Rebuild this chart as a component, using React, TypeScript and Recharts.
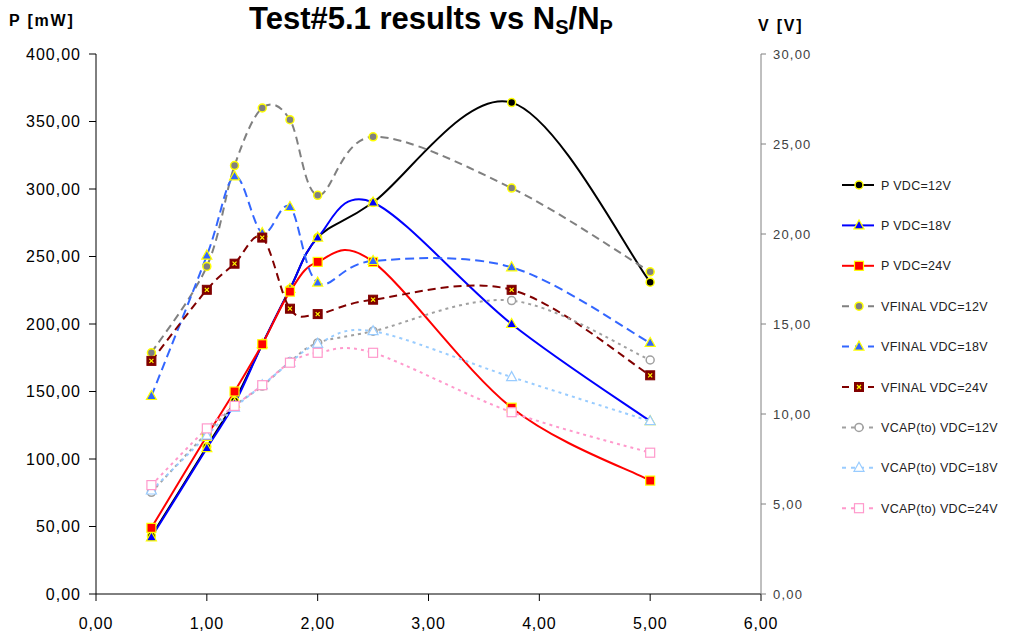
import React from 'react'
import { LineChart, Line, XAxis, YAxis } from 'recharts'

document.body.style.margin = '0'

// N_S / N_P ratio (x)
const nsnp = [0.5, 1, 1.25, 1.5, 1.75, 2, 2.5, 3.75, 5]

// power [mW] — left axis
const pVdc12 = [43, 109, 143, 185, 226, 264, 290, 364, 231]
const pVdc18 = [42, 108, 141, 185, 226, 264, 290, 200, 128]
const pVdc24 = [49, 117, 150, 185, 224, 246, 246, 138, 84]

// voltages [V] — right axis
const vfinal12 = [13.4, 18.2, 23.8, 27.0, 26.35, 22.15, 25.4, 22.55, 17.9]
const vfinal18 = [11.0, 18.8, 23.2, 20.05, 21.5, 17.3, 18.5, 18.15, 13.95]
const vfinal24 = [12.95, 16.9, 18.35, 19.8, 15.85, 15.55, 16.35, 16.9, 12.15]
const vcap12 = [5.65, 8.95, 10.45, 11.55, 12.9, 13.95, 14.6, 16.3, 13.0]
const vcap18 = [5.75, 8.8, 10.35, 11.6, 12.85, 13.9, 14.6, 12.05, 9.6]
const vcap24 = [6.05, 9.2, 10.45, 11.6, 12.85, 13.4, 13.4, 10.1, 7.85]

const xTicks = [0, 1, 2, 3, 4, 5, 6]
const pTicks = [0, 50, 100, 150, 200, 250, 300, 350, 400]
const vTicks = [0, 5, 10, 15, 20, 25, 30]

const data = nsnp.map((x, i) => ({
  x,
  p12: pVdc12[i],
  p18: pVdc18[i],
  p24: pVdc24[i],
  vf12: vfinal12[i],
  vf18: vfinal18[i],
  vf24: vfinal24[i],
  vc12: vcap12[i],
  vc18: vcap18[i],
  vc24: vcap24[i],
}))

const FONT = '"Liberation Sans", Arial, sans-serif'
const fmt = (v: number) => v.toFixed(2).replace('.', ',')

// Excel-like smoothing (Catmull-Rom through every point)
function excelSmooth(context: any) {
  let pts: number[][] = []
  return {
    areaStart() {},
    areaEnd() {},
    lineStart() {
      pts = []
    },
    point(x: number, y: number) {
      pts.push([+x, +y])
    },
    lineEnd() {
      const n = pts.length
      if (!n) return
      context.moveTo(pts[0][0], pts[0][1])
      for (let i = 0; i < n - 1; i++) {
        const p0 = pts[Math.max(0, i - 1)]
        const p1 = pts[i]
        const p2 = pts[i + 1]
        const p3 = pts[Math.min(n - 1, i + 2)]
        context.bezierCurveTo(
          p1[0] + (p2[0] - p0[0]) / 6,
          p1[1] + (p2[1] - p0[1]) / 6,
          p2[0] - (p3[0] - p1[0]) / 6,
          p2[1] - (p3[1] - p1[1]) / 6,
          p2[0],
          p2[1]
        )
      }
    },
  }
}

type Shape = 'circle' | 'triangle' | 'square' | 'squareX'

function Mark({ shape, cx, cy, fill, stroke }: { shape: Shape; cx: number; cy: number; fill: string; stroke: string }) {
  if (shape === 'circle') return <circle cx={cx} cy={cy} r={4} fill={fill} stroke={stroke} strokeWidth={1.5} />
  if (shape === 'triangle')
    return (
      <polygon
        points={`${cx},${cy - 5.5} ${cx + 5},${cy + 3.5} ${cx - 5},${cy + 3.5}`}
        fill={fill}
        stroke={stroke}
        strokeWidth={1.2}
      />
    )
  if (shape === 'squareX')
    return (
      <g>
        <rect x={cx - 4.5} y={cy - 4.5} width={9} height={9} fill={fill} stroke={fill} />
        <path d={`M${cx - 2} ${cy - 2}L${cx + 2} ${cy + 2}M${cx + 2} ${cy - 2}L${cx - 2} ${cy + 2}`} stroke={stroke} strokeWidth={1.2} />
      </g>
    )
  return <rect x={cx - 4.5} y={cy - 4.5} width={9} height={9} fill={fill} stroke={stroke} strokeWidth={1.2} />
}

const SERIES = [
  { key: 'p12', axis: 'p', name: 'P VDC=12V', color: '#000000', dash: undefined, shape: 'circle', fill: '#000000', mstroke: '#FFFF00' },
  { key: 'p18', axis: 'p', name: 'P VDC=18V', color: '#0000FF', dash: undefined, shape: 'triangle', fill: '#0000FF', mstroke: '#FFFF00' },
  { key: 'p24', axis: 'p', name: 'P VDC=24V', color: '#FF0000', dash: undefined, shape: 'square', fill: '#FF0000', mstroke: '#FFFF00' },
  { key: 'vf12', axis: 'v', name: 'VFINAL VDC=12V', color: '#808080', dash: '8 5', shape: 'circle', fill: '#808080', mstroke: '#FFFF00' },
  { key: 'vf18', axis: 'v', name: 'VFINAL VDC=18V', color: '#3366FF', dash: '9 5', shape: 'triangle', fill: '#3366FF', mstroke: '#FFFF00' },
  { key: 'vf24', axis: 'v', name: 'VFINAL VDC=24V', color: '#800000', dash: '8 5', shape: 'squareX', fill: '#800000', mstroke: '#FFFF00' },
  { key: 'vc12', axis: 'v', name: 'VCAP(to) VDC=12V', color: '#A0A0A0', dash: '3 4', shape: 'circle', fill: '#FFFFFF', mstroke: '#A0A0A0' },
  { key: 'vc18', axis: 'v', name: 'VCAP(to) VDC=18V', color: '#99CCFF', dash: '3 4', shape: 'triangle', fill: '#FFFFFF', mstroke: '#99CCFF' },
  { key: 'vc24', axis: 'v', name: 'VCAP(to) VDC=24V', color: '#FF99CC', dash: '3 4', shape: 'square', fill: '#FFFFFF', mstroke: '#FF99CC' },
] as const

export default function App() {
  return (
    <div style={{ position: 'relative', width: 1011, height: 638, background: '#fff' }}>
      <LineChart width={1011} height={638} data={data} margin={{ top: 54, right: 190, bottom: 0, left: 0 }}>
        <XAxis
          dataKey="x"
          type="number"
          domain={[0, 6]}
          ticks={xTicks}
          tickFormatter={fmt}
          height={44}
          tickSize={7}
          tickMargin={17}
          stroke="#000"
          tick={{ fontSize: 16, fill: '#000', fontFamily: FONT, letterSpacing: 0.8 }}
        />
        <YAxis
          yAxisId="p"
          domain={[0, 400]}
          ticks={pTicks}
          tickFormatter={fmt}
          width={96}
          tickSize={7}
          tickMargin={8}
          stroke="#000"
          tick={{ fontSize: 16, fill: '#000', fontFamily: FONT, letterSpacing: 1 }}
        />
        <YAxis
          yAxisId="v"
          orientation="right"
          domain={[0, 30]}
          ticks={vTicks}
          tickFormatter={fmt}
          width={60}
          tickSize={5}
          tickMargin={7}
          stroke="#808080"
          tick={{ fontSize: 13, fill: '#404040', fontFamily: FONT, letterSpacing: 1.2 }}
        />
        {SERIES.map((s) => (
          <Line
            key={s.key}
            yAxisId={s.axis}
            dataKey={s.key}
            name={s.name}
            type={excelSmooth as any}
            stroke={s.color}
            strokeWidth={2}
            strokeDasharray={s.dash}
            isAnimationActive={false}
            dot={(p: any) => (
              <Mark key={`${s.key}-${p.index}`} shape={s.shape as Shape} cx={p.cx} cy={p.cy} fill={s.fill} stroke={s.mstroke} />
            )}
            activeDot={false}
          />
        ))}
      </LineChart>

      <svg width={1011} height={638} style={{ position: 'absolute', left: 0, top: 0, pointerEvents: 'none' }}>
        <text x={431} y={29} textAnchor="middle" fontFamily={FONT} fontWeight="bold" fontSize={31} fill="#000">
          Test#5.1 results vs N
          <tspan dy={5} fontSize={20}>S</tspan>
          <tspan dy={-5}>/N</tspan>
          <tspan dy={5} fontSize={20}>P</tspan>
        </text>
        <text x={9} y={26} fontFamily={FONT} fontWeight="bold" fontSize={16} letterSpacing={1.8} fill="#000">
          P [mW]
        </text>
        <text x={758} y={31} fontFamily={FONT} fontWeight="bold" fontSize={16} letterSpacing={1.8} fill="#000">
          V [V]
        </text>
        {SERIES.map((s, i) => {
          const y = 185 + i * 40.4
          return (
            <g key={s.key}>
              <line x1={842} x2={874} y1={y} y2={y} stroke={s.color} strokeWidth={2} strokeDasharray={s.dash ? (s.dash === '3 4' ? '4 5' : '7 6') : undefined} />
              <Mark shape={s.shape as Shape} cx={859} cy={y} fill={s.fill} stroke={s.mstroke} />
              <text x={881} y={y + 4.5} fontFamily={FONT} fontSize={12.5} letterSpacing={0.3} fill="#222">
                {s.name}
              </text>
            </g>
          )
        })}
      </svg>
    </div>
  )
}
